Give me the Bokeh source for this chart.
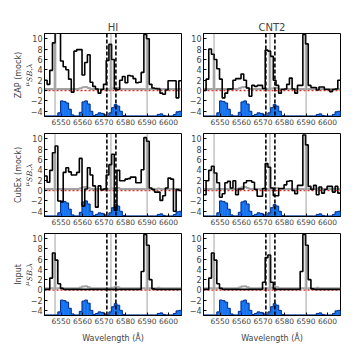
import numpy as np
from bokeh.plotting import figure
from bokeh.layouts import column, row
from bokeh.models import Range1d, LinearAxis, FixedTicker, Span
from bokeh.embed import file_html
from bokeh.resources import INLINE

# ---------------- data ----------------
edge_start = 6542.25          # first bin edge (Angstrom)
bin_width = 1.25              # spectral sampling (Angstrom)

zap_hi = [2.0, 1.2, 3.9, 9.2, 12, 12, 5.7, 4.6, 4.0, 2.2, -0.3, 7.6, 7.9, 7.9, 3.0, 5.4, 6.9,
          1.6, 0.8, 0.3, -0.5, 0.2, 1.2, 5.8, 8.9, 6.0, 0.3, 0.2, 2.0, 2.7, 1.5, 2.9, 2.8, 2.3,
          1.5, 1.6, 3.5, 10.8, 10.0, 1.2, 0.5, 0.4, 0.3, -0.5, -0.7, 0.1, 1.9, 1.9, 1.9, -1.4, 1.9]
zap_cnt2 = [0.0, 2.2, 8.0, 7.0, 6.0, 4.2, 2.2, -1.4, -0.5, 0.3, 0.3, 2.0, 2.3, 2.3, 3.2, 2.0, 0.5,
            -1.1, 1.0, 0.8, 1.0, 1.0, 0.4, 7.8, 7.6, 6.6, 2.0, 1.0, -0.5, 0.2, 0.3, 1.2, 2.4, 0.3,
            -0.5, 1.0, 1.0, 10.8, 9.0, 1.0, 0.6, 0.6, 0.1, 0.7, 0.7, 0.2, 0.2, -0.2, 0.2, 0.3, 2.0]
cubex_hi = [2.8, 1.6, 3.9, 7.3, 8.6, -2.0, -2.2, 3.5, 4.4, 3.6, 3.0, 3.0, 3.5, 6.2, -3.0, 0.3, 4.4,
            3.0, 0.9, -3.2, 0.9, 0.1, 0.3, 3.0, 5.0, 7.0, -3.8, 3.9, 1.9, 1.9, 2.2, 2.3, 2.6, 2.6,
            1.5, 1.5, 4.0, 10.2, 9.5, 0.5, 0.2, -0.3, -0.3, -1.9, -1.0, 0.5, 2.4, 2.2, -4.0, 0.2, 0.0]
cubex_cnt2 = [-0.8, 1.9, 3.9, 4.7, 3.4, 1.5, -1.3, -0.6, 1.5, 1.8, 0.5, 1.9, -0.8, 0.3, 0.3, 1.5, 1.9,
              1.9, 1.6, 0.2, -1.1, -1.1, 0.4, 5.2, 4.5, 0.5, -1.0, -1.0, 0.4, 0.4, 1.1, 1.8, 1.9, 0.0,
              -0.6, 1.0, 1.0, 10.7, 8.8, 0.8, 0.2, 1.0, -0.8, 0.7, -0.5, 0.2, 0.8, 0.8, -0.3, 0.8, -0.5]
input_hi = [0.1, 0.1, 2.3, 7.2, 5.8, 1.2, 0.3, 0.1, 0.1, 0.1, 0.1, 0.1, 0.1, 0.1, 0.1, 0.1, 0.1,
            0.1, 0.1, 0.1, 0.1, 0.1, 0.1, 0.1, 0.1, 0.1, 0.1, 0.1, 0.1, 0.1, 0.1, 0.1, 0.1, 0.1,
            0.1, 0.1, 3.6, 10.8, 8.7, 2.0, 0.2, 0.1, 0.1, 0.1, 0.1, 0.1, 0.1, 0.1, 0.1, 0.1, 0.1]
input_cnt2 = [0.1, 0.1, 2.3, 7.2, 5.8, 1.2, 0.3, 0.1, 0.1, 0.1, 0.1, 0.1, 0.1, 0.1, 0.1, 0.1, 0.1,
              0.1, 0.1, 0.1, 0.1, 0.1, 1.5, 6.3, 6.8, 1.5, 0.2, 0.1, 0.1, 0.1, 0.1, 0.1, 0.1, 0.1,
              0.1, 0.1, 3.6, 10.8, 8.7, 2.0, 0.2, 0.1, 0.1, 0.1, 0.1, 0.1, 0.1, 0.1, 0.1, 0.1, 0.1]
noise_level = [0.3, 0.3, 0.3, 0.3, 0.3, 0.3, 0.3, 0.3, 0.3, 0.3, 0.3, 0.3, 0.3, 0.45, 0.65, 0.7, 0.5,
               0.3, 0.3, 0.3, 0.3, 0.3, 0.3, 0.3, 0.3, 0.4, 0.55, 0.5, 0.3, 0.3, 0.3, 0.3, 0.3, 0.3,
               0.3, 0.3, 0.3, 0.3, 0.3, 0.3, 0.3, 0.3, 0.4, 0.3, 0.3, 0.3, 0.3, 0.3, 0.3, 0.3, 0.3]
sky_template = [-4.9, -4.9, -4.9, -4.9, -4.9, -4.3, -2.0, -2.1, -2.4, -3.6, -4.7, -4.9, -4.9, -4.2,
                -2.2, -2.0, -2.6, -4.0, -4.8, -4.6, -4.3, -4.4, -4.7, -4.9, -4.3, -3.3, -2.7, -3.0,
                -4.0, -4.8, -4.9, -4.9, -4.9, -4.9, -4.9, -4.9, -4.9, -4.9, -4.9, -4.9, -4.9, -4.9,
                -4.6, -4.5, -4.8, -4.9, -4.9, -4.9, -4.6, -4.1, -4.0]

line_positions = [6547.2, 6573.2, 6590.0]     # dotted: emitter wavelengths
window_edges = [6571.3, 6575.5]               # dashed: extraction window
flux_half_width = 0.7

x_ticks = [6550, 6560, 6570, 6580, 6590, 6600]
y_ticks = [-4, -2, 0, 2, 4, 6, 8, 10]
col_titles = ["HI", "CNT2"]
row_labels = ["ZAP (mock)", "CubEx (mock)", "Input"]
panels = [[zap_hi, zap_cnt2], [cubex_hi, cubex_cnt2], [input_hi, input_cnt2]]

FONT = "DejaVu Sans"
edges = edge_start + bin_width * np.arange(len(zap_hi) + 1)


def make_panel(vals, irow, icol):
    vals = np.asarray(vals, dtype=float)
    tops = [33, 1, 1]
    bottoms = [16, 16, 34]
    p = figure(frame_width=137, frame_height=83 if irow < 2 else 82,
               x_range=Range1d(6542.3, edges[-1]), y_range=Range1d(-5, 11),
               output_backend="svg", toolbar_location=None,
               min_border_left=44 if icol == 0 else 21,
               min_border_right=1 if icol == 0 else 2,
               min_border_top=tops[irow], min_border_bottom=bottoms[irow])
    p.xgrid.visible = False
    p.ygrid.visible = False
    p.outline_line_color = "black"
    p.background_fill_color = "white"
    p.border_fill_color = "white"

    # zero line
    p.add_layout(Span(location=0, dimension="width", line_color="#e8281e",
                      line_dash="2 2", line_width=1.5, level="underlay"))
    # noise level
    p.step(edges, np.append(noise_level, noise_level[-1]), mode="after",
           line_color="#8c8c8c", line_width=2, line_alpha=0.8)

    # shaded flux around each emitter wavelength
    for lc in line_positions:
        lo, hi = lc - flux_half_width, lc + flux_half_width
        for k in range(len(vals)):
            l, r = max(edges[k], lo), min(edges[k + 1], hi)
            if r > l:
                p.quad(left=l, right=r, bottom=0, top=vals[k],
                       fill_color="#c4c4c4", line_color=None)

    # sky template
    p.quad(left=edges[:-1], right=edges[1:], bottom=-5, top=sky_template,
           fill_color="#1473f0", line_color="#1473f0", line_width=0.5)
    p.step(edges, np.append(sky_template, sky_template[-1]), mode="after",
           line_color="#0a2f8c", line_width=1)

    # spectrum
    p.step(edges, np.append(vals, vals[-1]), mode="after",
           line_color="black", line_width=1.6)

    for lc in line_positions:
        p.add_layout(Span(location=lc, dimension="height", line_color="#444444",
                          line_dash="1 1", line_width=1))
    for we in window_edges:
        p.add_layout(Span(location=we, dimension="height", line_color="black",
                          line_dash="4 2", line_width=1.6))

    p.xaxis.ticker = FixedTicker(ticks=x_ticks)
    p.yaxis.ticker = FixedTicker(ticks=y_ticks)
    for ax in (p.xaxis[0], p.yaxis[0]):
        ax.major_tick_in = 3
        ax.major_tick_out = 0
        ax.minor_tick_line_color = None
        ax.major_label_text_font = FONT
        ax.major_label_text_font_size = "7.5px"
        ax.major_label_standoff = 2
        ax.axis_line_color = "black"
    p.yaxis.major_label_text_font_size = "8px"

    if irow == 0:
        p.title.text = col_titles[icol]
        p.title.align = "center"
        p.title.text_font = FONT
        p.title.text_font_size = "10px"
        p.title.text_font_style = "normal"
        p.title.standoff = 1
    if irow == 2:
        p.xaxis.axis_label = "Wavelength (\u00c5)"
        p.xaxis.axis_label_text_font = FONT
        p.xaxis.axis_label_text_font_size = "8px"
        p.xaxis.axis_label_text_font_style = "normal"
        p.xaxis.axis_label_standoff = 7
    if icol == 0:
        p.yaxis.axis_label = r"$$\mu_{SB,\lambda}$$"
        p.yaxis.axis_label_text_font_size = "6px"
        p.yaxis.axis_label_text_color = "#333333"
        p.yaxis.axis_label_standoff = -6
        outer = LinearAxis(ticker=FixedTicker(ticks=[]), axis_label=row_labels[irow],
                           axis_line_color=None, major_tick_line_color=None,
                           minor_tick_line_color=None, major_label_text_font_size="0px",
                           axis_label_text_font=FONT, axis_label_text_font_size="8px",
                           axis_label_text_font_style="normal", axis_label_standoff=0)
        p.add_layout(outer, "left")
    return p


rows = []
for i in range(3):
    rows.append(row(make_panel(panels[i][0], i, 0), make_panel(panels[i][1], i, 1)))
layout = column(*rows)

open("out.html", "w").write(file_html(layout, INLINE))
